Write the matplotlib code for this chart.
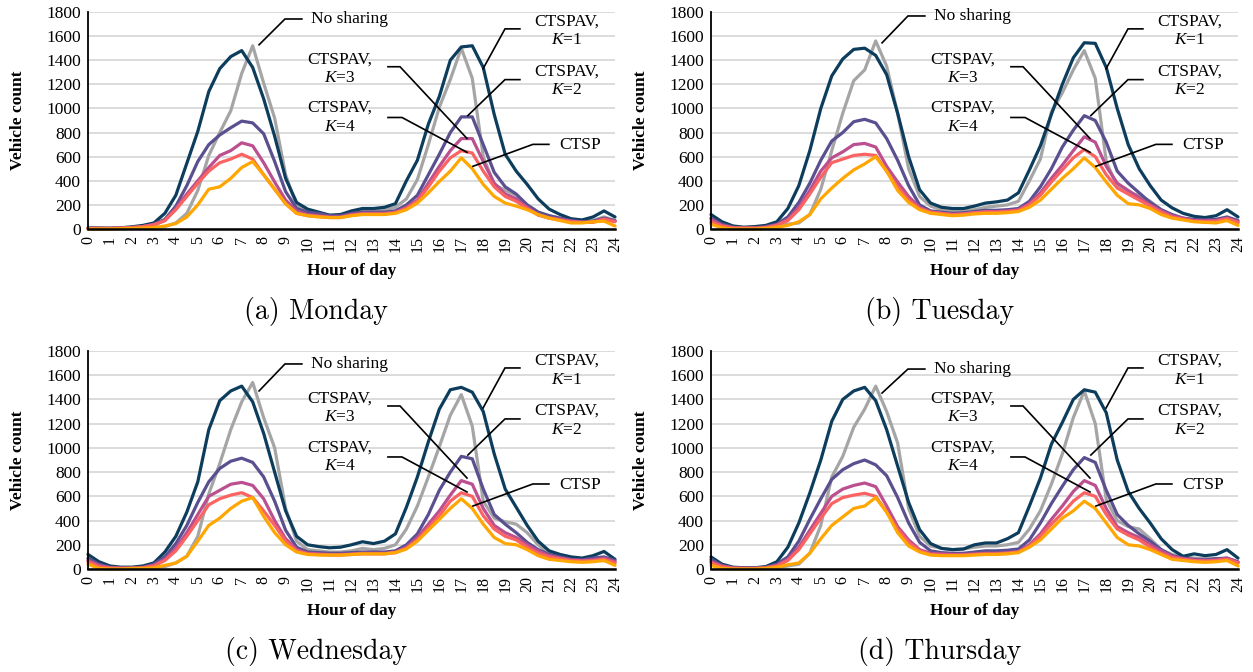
import numpy as np
import matplotlib
matplotlib.use("Agg")
import matplotlib.pyplot as plt

plt.rcParams['font.family'] = ['Liberation Serif', 'DejaVu Serif']
plt.rcParams['mathtext.fontset'] = 'custom'
plt.rcParams['mathtext.rm'] = 'Liberation Serif'
plt.rcParams['mathtext.it'] = 'Liberation Serif:italic'

# ---------------- data (half-hour resolution, 0..24 h) ----------------
hours = np.arange(0, 24.01, 0.5)
tick_hours = list(range(0, 25))
y_ticks = list(range(0, 1801, 200))

series_names = ["No sharing", "CTSPAV, K=1", "CTSPAV, K=2", "CTSPAV, K=3", "CTSPAV, K=4", "CTSP"]
series_colors = ["#a5a5a5", "#0d3d5c", "#5a4f8f", "#bb4f8f", "#fb6262", "#ffa600"]

# Monday
mon_ns = [5,5,5,5,8,10,15,20,50,130,320,610,800,980,1290,1520,1210,920,450,190,150,130,110,110,130,150,150,160,180,250,410,700,1010,1240,1500,1250,600,370,320,280,200,140,110,90,70,65,70,100,70]
mon_k1 = [8,8,6,10,18,30,50,130,280,545,810,1140,1330,1430,1480,1340,1080,770,420,220,165,140,115,120,150,170,170,180,210,400,570,870,1100,1400,1510,1520,1340,950,620,480,370,250,165,120,85,75,100,150,100]
mon_k2 = [5,5,5,8,12,20,40,80,190,360,560,700,780,840,895,880,790,560,310,170,140,130,110,110,130,140,140,140,150,200,280,450,620,800,930,930,700,470,350,290,200,140,110,90,70,60,65,90,70]
mon_k3 = [5,5,5,8,12,20,35,70,170,290,400,510,610,650,715,690,550,390,240,150,120,110,100,100,120,130,130,130,140,180,240,380,520,650,750,750,560,380,290,250,180,120,95,80,65,55,60,85,65]
mon_k4 = [5,5,5,8,12,20,35,70,160,270,380,480,550,580,620,580,450,330,210,130,110,105,95,95,115,125,125,125,135,170,230,350,480,590,650,630,480,350,270,230,170,115,90,75,60,55,55,80,60]
mon_ctsp = [0,0,0,3,5,8,12,25,45,100,200,330,350,420,510,560,450,330,210,130,110,100,95,95,110,120,120,120,130,160,215,300,394,480,590,500,370,270,215,190,160,120,90,70,50,50,60,65,25]

# Tuesday
tue_ns = [50,20,10,5,5,10,20,40,50,120,330,650,960,1230,1320,1560,1350,960,500,270,190,160,150,150,160,180,190,200,230,400,580,970,1130,1320,1480,1250,560,350,300,280,230,160,110,80,75,65,65,80,50]
tue_k1 = [120,60,25,15,20,30,60,170,360,650,1000,1270,1410,1490,1500,1440,1280,960,600,325,215,180,170,170,190,215,225,240,300,490,690,950,1200,1420,1545,1540,1340,1000,700,500,360,240,175,130,105,95,110,160,100]
tue_k2 = [90,40,15,10,10,20,40,100,220,380,570,730,800,890,910,880,750,570,360,200,150,140,130,135,145,155,155,160,170,230,350,500,680,820,940,900,720,480,380,300,220,160,120,90,80,75,80,100,70]
tue_k3 = [80,30,12,8,8,15,35,80,180,320,480,590,640,700,710,680,520,390,270,180,140,130,120,125,135,145,145,150,160,210,300,420,530,650,765,720,520,380,320,260,200,150,110,90,70,70,70,90,60]
tue_k4 = [60,25,10,8,8,12,30,70,160,290,430,550,580,610,620,610,480,350,240,170,140,130,120,125,135,140,140,145,155,200,280,390,490,590,660,600,450,340,290,240,190,140,100,80,65,60,65,85,55]
tue_ctsp = [40,10,0,0,0,5,15,30,60,120,250,340,420,490,540,600,480,320,220,160,130,120,110,115,125,130,130,135,145,180,240,330,420,500,590,510,390,280,210,200,170,120,90,75,60,55,50,70,30]

# Wednesday
wed_ns = [80,30,10,5,5,5,10,20,50,105,270,620,870,1150,1380,1540,1250,1000,500,230,160,150,140,140,150,170,160,170,200,330,520,760,1010,1270,1440,1180,560,420,390,370,300,200,130,100,90,80,75,70,50]
wed_k1 = [120,60,25,15,15,25,50,140,270,470,720,1150,1390,1470,1510,1380,1120,800,480,270,200,185,175,180,200,225,210,230,290,510,760,1050,1320,1480,1500,1460,1300,950,660,510,360,230,150,120,100,90,110,145,80]
wed_k2 = [90,40,15,10,10,15,40,100,210,360,550,720,830,890,915,880,760,560,320,180,140,135,130,130,135,140,140,140,150,200,290,450,650,800,930,910,660,450,370,300,220,160,120,100,80,75,90,100,70]
wed_k3 = [70,30,10,8,8,12,30,80,170,300,450,600,650,700,715,690,580,400,250,160,130,125,120,120,125,130,130,130,140,180,260,370,480,610,730,700,500,360,300,260,200,150,110,90,75,70,75,90,60]
wed_k4 = [60,20,8,5,5,10,25,70,150,270,400,530,580,610,630,590,480,360,230,150,125,120,115,115,120,125,125,125,135,170,240,340,440,560,630,600,440,330,270,240,180,130,100,85,70,65,70,80,50]
wed_ctsp = [40,5,0,0,5,5,10,30,50,105,230,360,420,500,560,590,435,300,200,140,120,115,115,115,120,125,125,125,135,165,230,320,410,500,580,500,370,260,210,200,160,110,80,70,60,55,60,70,30]

# Thursday
thu_ns = [70,20,10,5,5,5,10,25,40,130,360,760,930,1170,1320,1510,1300,1040,500,270,190,170,160,165,180,190,190,200,220,330,480,700,950,1250,1470,1200,573,400,350,330,250,160,120,100,90,85,85,85,50]
thu_k1 = [100,40,15,10,10,20,60,180,380,628,900,1220,1400,1470,1500,1390,1150,850,550,325,210,170,160,165,200,215,215,250,300,520,750,1030,1210,1400,1480,1460,1290,900,640,500,380,250,160,105,125,110,120,160,90]
thu_k2 = [80,30,10,8,8,15,40,100,230,410,580,740,820,870,900,860,770,590,380,220,150,135,130,130,140,150,150,155,165,240,380,540,683,820,920,880,650,450,360,290,230,160,110,90,80,75,85,90,60]
thu_k3 = [60,25,10,5,5,10,30,80,180,320,460,600,660,690,710,680,520,350,240,160,130,125,120,120,125,130,130,135,145,200,290,410,520,640,730,690,500,350,300,260,200,150,105,85,75,70,75,90,55]
thu_k4 = [50,20,5,5,5,10,25,70,160,290,420,540,590,610,625,600,470,330,220,150,120,115,115,115,120,125,125,130,140,190,270,370,460,560,630,600,450,330,280,240,180,130,95,80,70,65,70,80,50]
thu_ctsp = [30,5,0,0,0,5,15,35,50,130,250,360,430,500,520,590,470,300,190,140,115,110,110,110,115,120,120,125,135,180,240,330,420,480,560,500,380,260,200,190,160,120,80,70,60,55,60,70,25]

captions = ["(a) Monday", "(b) Tuesday", "(c) Wednesday", "(d) Thursday"]
panels = [
    [mon_ns, mon_k1, mon_k2, mon_k3, mon_k4, mon_ctsp],
    [tue_ns, tue_k1, tue_k2, tue_k3, tue_k4, tue_ctsp],
    [wed_ns, wed_k1, wed_k2, wed_k3, wed_k4, wed_ctsp],
    [thu_ns, thu_k1, thu_k2, thu_k3, thu_k4, thu_ctsp],
]

# ---------------- layout ----------------
W, H = 1253, 672
fig = plt.figure(figsize=(W / 100, H / 100), dpi=100)

ax_px = [(88, 12, 615, 229), (711, 12, 1238, 229), (88, 351, 615, 569), (711, 351, 1238, 569)]
cap_px = [(316, 311), (940, 311), (316, 652), (940, 652)]
ns_label_v = [1742, 1767, 1693, 1651]
ns_point_v = [1528, 1544, 1470, 1453]

lab_fs = 12.5
tick_fs = 12.5

for i, (x0, y0, x1, y1) in enumerate(ax_px):
    ax = fig.add_axes([x0 / W, 1 - y1 / H, (x1 - x0) / W, (y1 - y0) / H])
    ax.set_xlim(0, 24)
    ax.set_ylim(0, 1800)
    ax.set_yticks(y_ticks)
    ax.set_xticks(tick_hours)
    ax.set_xticklabels([str(t) for t in tick_hours], rotation=90, fontsize=11.5)
    ax.tick_params(axis='y', length=0, pad=5, labelsize=tick_fs)
    ax.tick_params(axis='x', length=0, pad=5)
    ax.grid(axis='y', color='#d9d9d9', lw=1.3)
    ax.set_axisbelow(True)
    for s in ['top', 'right']:
        ax.spines[s].set_visible(False)
    ax.spines['left'].set_linewidth(1.3)
    ax.spines['bottom'].set_linewidth(1.8)
    ax.spines['left'].set_color('black')

    for vals, col in zip(panels[i], series_colors):
        ax.plot(hours, vals, color=col, lw=2.3, solid_joinstyle='round', solid_capstyle='round', clip_on=False)

    ax.text(-0.1328, 0.5, "Vehicle count", transform=ax.transAxes, rotation=90,
            ha='center', va='center', fontsize=lab_fs, fontweight='bold')
    ax.text(0.5, -0.1935, "Hour of day", transform=ax.transAxes,
            ha='center', va='center', fontsize=lab_fs, fontweight='bold')

    # annotations with leader lines
    lk = dict(color='black', lw=1.2, clip_on=False, solid_joinstyle='miter')
    ax.plot([7.79, 8.97, 9.74], [ns_point_v[i], ns_label_v[i], ns_label_v[i]], **lk)
    ax.text(10.15, ns_label_v[i], "No sharing", ha='left', va='center', fontsize=lab_fs)

    ax.plot([17.99, 18.99, 19.67], [1329, 1660, 1660], **lk)
    ax.text(21.81, 1643, "CTSPAV,\n$K$=1", ha='center', va='center', fontsize=lab_fs, linespacing=1.25)

    ax.plot([17.30, 18.99, 19.67], [941, 1239, 1239], **lk)
    ax.text(21.81, 1230, "CTSPAV,\n$K$=2", ha='center', va='center', fontsize=lab_fs, linespacing=1.25)

    ax.plot([13.66, 14.21, 17.26], [1346, 1346, 751], **lk)
    ax.text(11.48, 1330, "CTSPAV,\n$K$=3", ha='center', va='center', fontsize=lab_fs, linespacing=1.25)

    ax.plot([13.66, 14.30, 17.26], [925, 925, 636], **lk)
    ax.text(11.48, 925, "CTSPAV,\n$K$=4", ha='center', va='center', fontsize=lab_fs, linespacing=1.25)

    ax.plot([17.53, 20.26, 20.99], [520, 702, 702], **lk)
    ax.text(22.4, 694, "CTSP", ha='center', va='center', fontsize=lab_fs)

    cx, cy = cap_px[i]
    fig.text(cx / W, 1 - cy / H, captions[i], ha='center', va='center',
             fontsize=20, family='cmr10')

fig.savefig("out.png", dpi=100)
